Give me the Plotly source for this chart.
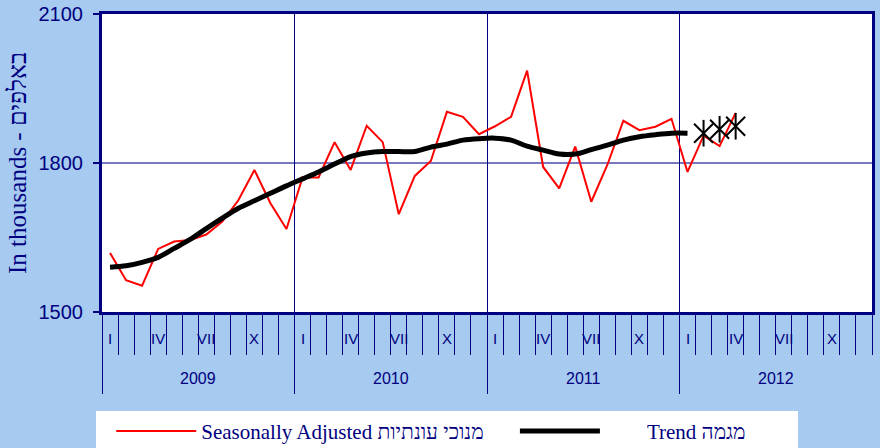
import plotly.graph_objects as go

# ---------------- data ----------------
years = ["2009", "2010", "2011", "2012"]
month_labels = ["I", "IV", "VII", "X"]
month_label_pos = [0, 3, 6, 9]          # month index within a year
y_ticks = [1500, 1800, 2100]

seasonally_adjusted = [
    1619, 1564, 1553, 1627, 1642, 1645, 1656, 1682, 1725, 1786, 1719, 1667,   # 2009
    1771, 1771, 1842, 1786, 1875, 1842, 1697, 1774, 1804, 1903, 1893, 1858,   # 2010
    1874, 1893, 1986, 1792, 1749, 1833, 1722, 1796, 1885, 1866, 1873, 1889,   # 2011
    1782, 1855, 1834, 1901,                                                   # 2012
]
trend = [
    1590, 1593, 1600, 1610, 1628, 1646, 1668, 1689, 1709, 1724, 1739, 1754,
    1768, 1782, 1798, 1813, 1820, 1823, 1823, 1823, 1832, 1838, 1846, 1849,
    1850, 1846, 1834, 1826, 1818, 1818, 1827, 1836, 1846, 1853, 1857, 1860,
    1860,
]
trend_provisional = [1860, 1868, 1874]   # Feb-Apr 2012

sa_name = "Seasonally Adjusted מנוכי עונתיות"
trend_name = "Trend מגמה"
y_title = "In thousands - באלפים"

# ---------------- derived ----------------
n_months = 12 * len(years)
x_sa = list(range(len(seasonally_adjusted)))
x_trend = list(range(len(trend)))
x_prov = list(range(len(trend), len(trend) + len(trend_provisional)))

NAVY = "#000080"
NBSP = "\u00a0"

fig = go.Figure()
fig.add_trace(go.Scatter(
    x=x_sa, y=seasonally_adjusted, mode="lines", name=sa_name + NBSP * 5,
    line=dict(color="#FF0000", width=2),
))
fig.add_trace(go.Scatter(
    x=x_trend, y=trend, mode="lines", name=NBSP * 8 + trend_name + NBSP * 9,
    line=dict(color="black", width=5, shape="spline", smoothing=0.8),
))
for sym in ["x-thin-open", "line-ns-open"]:
    fig.add_trace(go.Scatter(
        x=x_prov, y=trend_provisional, mode="markers", showlegend=False,
        marker=dict(symbol=sym, size=19, color="black", line=dict(color="black", width=2)),
    ))
# helper trace so the year-divider axis is drawn
fig.add_trace(go.Scatter(x=[], y=[], xaxis="x2", showlegend=False))

annotations = []
for k, yr in enumerate(years):
    for lab, pos in zip(month_labels, month_label_pos):
        annotations.append(dict(
            x=12 * k + pos, y=-0.0906, xref="x", yref="paper", text=lab,
            showarrow=False, yanchor="middle",
            font=dict(family="Liberation Sans", size=15, color=NAVY),
        ))
    annotations.append(dict(
        x=12 * k + 5.5, y=-0.2215, xref="x", yref="paper", text=yr,
        showarrow=False, yanchor="middle",
        font=dict(family="Liberation Sans", size=16, color=NAVY),
    ))

fig.update_layout(
    width=880, height=448,
    paper_bgcolor="#A6CAF0", plot_bgcolor="white",
    margin=dict(l=102, r=8, t=14, b=136, autoexpand=False),
    showlegend=True,
    legend=dict(
        orientation="h", x=-0.0078, xanchor="left", y=-0.332, yanchor="top",
        bgcolor="white", itemwidth=80,
        title=dict(text=NBSP, font=dict(family="Liberation Serif", size=21)),
        font=dict(family="Liberation Serif", size=21, color=NAVY),
    ),
    xaxis=dict(
        range=[-0.5, n_months - 0.5],
        tickvals=[i - 0.5 for i in range(n_months + 1)],
        ticks="outside", ticklen=40, tickcolor=NAVY, tickwidth=1,
        showticklabels=False, showgrid=False, zeroline=False,
        showline=True, linecolor=NAVY, linewidth=3, mirror=True,
    ),
    xaxis2=dict(
        overlaying="x", anchor="y", side="bottom",
        range=[-0.5, n_months - 0.5],
        tickvals=[12 * k - 0.5 for k in range(len(years))],
        ticks="outside", ticklen=81, tickcolor=NAVY, tickwidth=1,
        showticklabels=False, showgrid=True, gridcolor=NAVY, gridwidth=1,
        zeroline=False, showline=False,
    ),
    yaxis=dict(
        range=[y_ticks[0], y_ticks[-1]], tickvals=y_ticks,
        ticks="outside", ticklen=6, tickcolor=NAVY, tickwidth=2,
        ticklabelstandoff=6,
        tickfont=dict(family="Liberation Sans", size=20, color=NAVY),
        showline=True, linecolor=NAVY, linewidth=3, mirror=True,
        showgrid=True, gridcolor="#7878C0", gridwidth=2, zeroline=False,
        title=dict(text=y_title, standoff=5,
                   font=dict(family="Liberation Serif", size=25, color=NAVY)),
    ),
    annotations=annotations,
)

fig.write_html(
    "out.html",
    config={"displayModeBar": False},
    post_script="document.body.style.margin='0';document.body.style.background='#A6CAF0';",
)
